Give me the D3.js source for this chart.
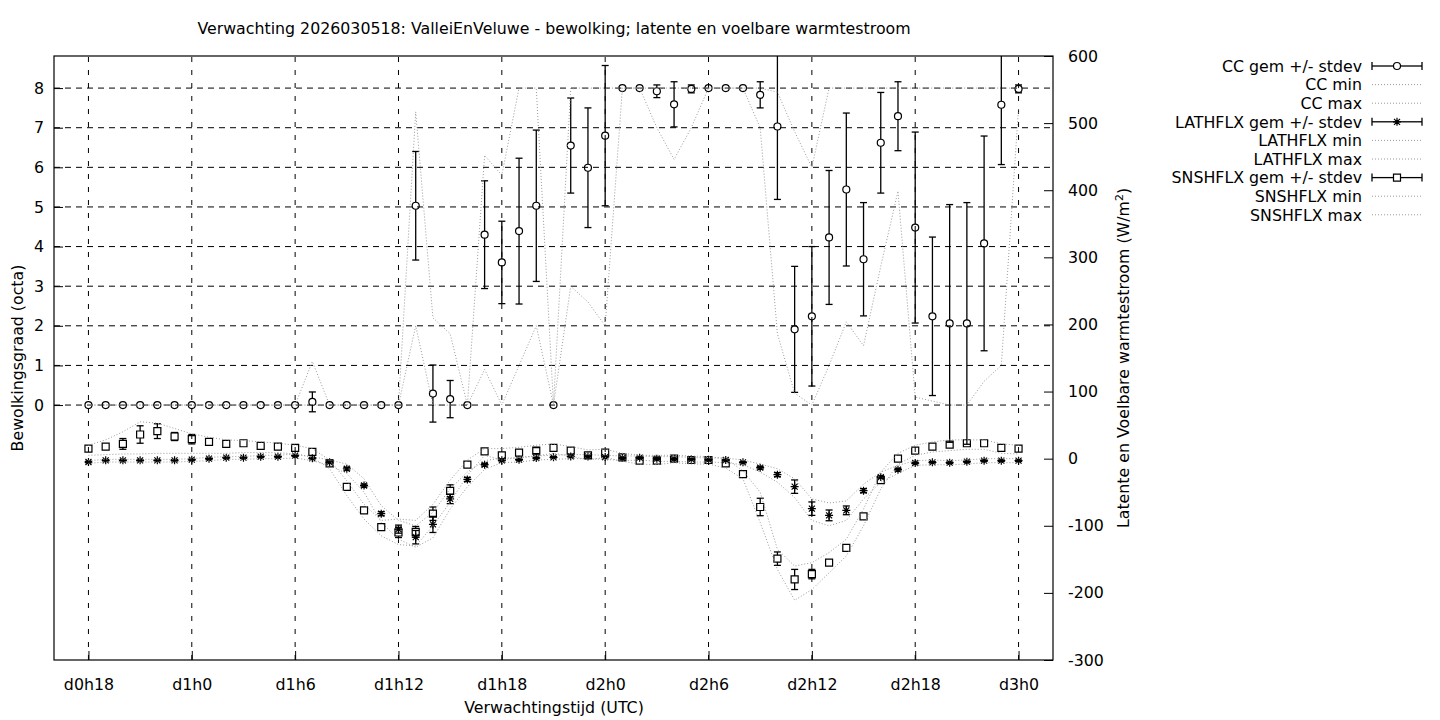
<!DOCTYPE html>
<html>
<head>
<meta charset="UTF-8">
<script src="https://d3js.org/d3.v7.min.js"></script>
<style>
body { margin: 0; background: #fff; }
svg text { font-family: "DejaVu Sans", sans-serif; font-size: 15.8px; fill: #000; }
.grid-h { stroke: #000; stroke-width: 1; stroke-dasharray: 6,5; }
.grid-v { stroke: #000; stroke-width: 1; stroke-dasharray: 5,8; }
.minmax { fill: none; stroke: #9a9a9a; stroke-width: 1; stroke-dasharray: 1,2; }
.bar { stroke: #000; stroke-width: 1.3; }
.mark { fill: none; stroke: #000; stroke-width: 1.2; }
</style>
</head>
<body>
<script>
// forecast hours (since d0h0)
var hours = [18,19,20,21,22,23, 24,25,26,27,28,29, 30,31,32,33,34,35, 36,37,38,39,40,41,
             42,43,44,45,46,47, 48,49,50,51,52,53, 54,55,56,57,58,59, 60,61,62,63,64,65,
             66,67,68,69,70,71, 72];
var tickHours  = [18, 24, 30, 36, 42, 48, 54, 60, 66, 72];
var tickLabels = ["d0h18","d1h0","d1h6","d1h12","d1h18","d2h0","d2h6","d2h12","d2h18","d3h0"];
var ccTicks = [0,1,2,3,4,5,6,7,8];
var wTicks  = [-300,-200,-100,0,100,200,300,400,500,600];

// bewolking (octa)
var ccMean = [0,0,0,0,0,0, 0,0,0,0,0,0, 0,0.08,0,0,0,0, 0,5.03,0.29,0.15,0,4.30,
              3.60,4.39,5.03,0,6.55,5.99, 6.80,8,8,7.92,7.59,7.98, 8,8,8,7.83,7.03,1.91,
              2.24,4.23,5.44,3.68,6.62,7.29, 4.48,2.24,2.06,2.06,4.08,7.58, 7.98];
var ccSd   = [0,0,0,0,0,0, 0,0,0,0,0,0, 0,0.25,0,0,0,0, 0,1.37,0.72,0.47,0,1.36,
              1.04,1.84,1.91,0,1.20,1.51, 1.77,0,0,0.16,0.57,0.10, 0,0,0,0.33,1.84,1.59,
              1.76,1.69,1.93,1.43,1.27,0.87, 2.41,2.00,3.00,3.05,2.71,1.51, 0.10];
var ccMin  = [0,0,0,0,0,0, 0,0,0,0,0,0, 0,0,0,0,0,0, 0,2.0,0,0,0,0.9,
              0,1.0,2.0,0,3.0,2.6, 2.0,8,8,7.0,6.2,7.0, 8,8,8,7.0,1.8,0.3,
              0,1.0,2.1,1.5,3.5,5.4, 0.2,0.1,0,0,0.6,1.0, 7.5];
var ccMax  = [0,0,0,0,0,0, 0,0,0,0,0,0, 0,1.1,0,0,0,0, 0,7.4,2.2,1.8,0,6.3,
              5.8,8,8,0,8,8, 8,8,8,8,8,8, 8,8,8,8,7.9,6.9,
              6.0,8,8,8,8,8, 8,8,8,8,8,8, 8];

// latente warmtestroom (W/m2)
var lhMean = [-5,-2.5,-2.5,-2.5,-2.5,-2.5, -1.5,0,1.5,1.5,3,3, 4.5,0.5,-5.5,-15,-40,-82,
              -105,-117,-98,-60,-31,-9, -2.5,-1.5,1,2,3.4,3.4, 2.4,1,1.5,0,0,-1,
              -1.5,-2,-5.5,-13.4,-23.8,-41.7, -74.5,-84.5,-77,-47.7,-27.4,-16.4,
              -6.5,-5.5,-6,-4.5,-3,-3, -3];
var lhSd   = [1,1,1,1,1,1, 1,1,1,1,1,1, 1,1,1,2,2,3,
              6,10,12,7,3,2, 1,1,1,1,1,1, 1,1,1,1,1,1,
              1,1,1,2,3,10, 10,8,6.5,3,2,2, 1,1,1,1,1,1, 1];
var lhMin  = [-7,-5,-5,-5,-5,-5, -4,-3,-1,-1,0,0, 1,-3,-10,-22,-50,-95,
              -120,-132,-118,-75,-42,-16, -6,-5,-2,-1,0,0, -1,-3,-2,-4,-4,-5,
              -5,-6,-9,-20,-35,-58, -92,-100,-92,-60,-35,-22, -10,-9,-9,-8,-6,-6, -6];
var lhMax  = [-3,-1,-1,-1,-1,-1, 0,2,3,3,5,5, 7,3,-2,-8,-30,-70,
              -92,-100,-80,-45,-20,-3, 1,1,4,5,6,6, 5,4,4,3,3,2,
              1,1,-2,-8,-15,-30, -60,-66,-63,-38,-20,-10, -3,-2,-3,-2,0,0, 0];

// voelbare warmtestroom (W/m2)
var shMean = [15,18,22,36,41,33, 29,25,22,23,19,18, 16,10,-7,-42,-77,-102,
              -110,-109,-82,-48,-9,11, 5,9,12,16,12,5, 9,2,-3,-3,0,-2,
              -2,-7,-23,-72,-149,-180, -172,-155,-133,-86,-32,0,
              12,18,21,23,23,16, 15];
var shSd   = [2,2,8,13,11,6, 7,3,2,2,2,2, 2,2,2,2,2,3,
              7.5,8,10,9,4,2, 3,2,4.5,2,3,2, 3,2,2,2,2,2,
              2,2,3,13,10,15, 7,2,4,2,3,2, 2,2,2,2,2,2, 2];
var shMin  = [5,6,7,7,8,8, 8,8,8,9,9,9, 7,2,-15,-55,-90,-115,
              -128,-130,-100,-65,-25,5, -2,2,4,8,4,-2, 2,-4,-8,-9,-6,-8,
              -8,-14,-30,-95,-165,-211, -195,-170,-145,-100,-45,-8,
              5,10,12,14,14,8, 7];
var shMax  = [20,28,40,55,53,45, 37,32,28,27,25,23, 20,15,-2,-33,-68,-92,
              -90,-92,-68,-32,-2,15, 15,17,20,22,18,13, 14,8,5,5,5,4,
              3,0,-18,-50,-135,-160, -155,-140,-120,-75,-20,8,
              20,25,28,28,28,22, 20];

var w = 1440, h = 720;
var pl = 54, pr = 1053, pt = 56, pb = 660;

var svg = d3.select("body").append("svg")
    .attr("width", w)
    .attr("height", h);

var x = d3.scaleLinear().domain([16, 74]).range([pl, pr]);
var yCC = d3.scaleLinear().domain([-6.435, 8.81]).range([pb, pt]);
var yW = d3.scaleLinear().domain([-300, 600]).range([pb, pt]);

svg.append("defs").append("clipPath").attr("id", "clip")
  .append("rect").attr("x", pl).attr("y", pt).attr("width", pr - pl).attr("height", pb - pt);

// title
svg.append("text")
    .attr("x", 554).attr("y", 34)
    .attr("text-anchor", "middle")
    .text("Verwachting 2026030518: ValleiEnVeluwe - bewolking; latente en voelbare warmtestroom");

// grid
svg.append("g").selectAll("line")
    .data(ccTicks).enter().append("line")
    .attr("class", "grid-h")
    .attr("x1", pl).attr("x2", pr)
    .attr("y1", function(d) { return yCC(d); })
    .attr("y2", function(d) { return yCC(d); });
svg.append("g").selectAll("line")
    .data(tickHours).enter().append("line")
    .attr("class", "grid-v")
    .attr("y1", pb).attr("y2", pt)
    .attr("x1", function(d) { return x(d); })
    .attr("x2", function(d) { return x(d); });

// axes (ticks inward)
var axL = svg.append("g").attr("transform", "translate(" + pl + ",0)")
    .call(d3.axisLeft(yCC).tickValues(ccTicks).tickSizeInner(-9).tickSizeOuter(0).tickPadding(10));
var axR = svg.append("g").attr("transform", "translate(" + pr + ",0)")
    .call(d3.axisRight(yW).tickValues(wTicks).tickSizeInner(-9).tickSizeOuter(0).tickPadding(15)
        .tickFormat(function(d) { return String(d); }));
var axB = svg.append("g").attr("transform", "translate(0," + pb + ")")
    .call(d3.axisBottom(x).tickValues(tickHours).tickSizeInner(-9).tickSizeOuter(0).tickPadding(19)
        .tickFormat(function(d, i) { return tickLabels[i]; }));
[axL, axR, axB].forEach(function(a) {
  a.select(".domain").remove();
  a.selectAll("text").attr("font-family", null).attr("font-size", null);
  a.selectAll("line").attr("stroke", "#000");
});

// border
svg.append("rect")
    .attr("x", pl).attr("y", pt).attr("width", pr - pl).attr("height", pb - pt)
    .attr("fill", "none").attr("stroke", "#000").attr("stroke-width", 1.2);

// axis titles
svg.append("text")
    .attr("transform", "translate(23,358) rotate(-90)")
    .attr("text-anchor", "middle")
    .text("Bewolkingsgraad (octa)");
var rt = svg.append("text")
    .attr("transform", "translate(1129,358) rotate(-90)")
    .attr("text-anchor", "middle");
rt.append("tspan").text("Latente en Voelbare warmtestroom (W/m");
rt.append("tspan").attr("dy", -6).style("font-size", "11px").text("2");
rt.append("tspan").attr("dy", 6).text(")");
svg.append("text")
    .attr("x", 554).attr("y", 713)
    .attr("text-anchor", "middle")
    .text("Verwachtingstijd (UTC)");

// markers
function markPath(type) {
  if (type == "circle") return "M3.5,0 A3.5,3.5 0 1,1 -3.5,0 A3.5,3.5 0 1,1 3.5,0 Z";
  if (type == "square") return "M-3.5,-3.5 H3.5 V3.5 H-3.5 Z";
  return "M-4,0 H4 M0,-4 V4 M-3,-3 L3,3 M-3,3 L3,-3";
}
var gap = { circle: 3.5, square: 3.5, star: 0 };

var plot = svg.append("g").attr("clip-path", "url(#clip)");

function drawSeries(mean, sd, mn, mx, y, type) {
  var g = plot.append("g");
  var rows = hours.map(function(hr, i) { return { h: hr, m: mean[i], s: sd[i] }; });
  // error bars, interrupted at the symbol; hidden when inside the symbol
  var eb = g.selectAll(".eb").data(rows).enter().append("g")
      .attr("transform", function(d) { return "translate(" + x(d.h) + "," + y(d.m) + ")"; });
  eb.each(function(d) {
    if (d.s <= 0) return;
    var e = d3.select(this);
    var top = y(d.m + d.s) - y(d.m), bot = y(d.m - d.s) - y(d.m);
    var gp = gap[type];
    if (gp > 0 && -top < gp - 0.5) return;
    if (-top > gp) e.append("line").attr("class", "bar").attr("x1", 0).attr("x2", 0).attr("y1", top).attr("y2", -gp);
    if (bot > gp) e.append("line").attr("class", "bar").attr("x1", 0).attr("x2", 0).attr("y1", gp).attr("y2", bot);
    e.append("line").attr("class", "bar").attr("x1", -3.5).attr("x2", 3.5).attr("y1", top).attr("y2", top);
    e.append("line").attr("class", "bar").attr("x1", -3.5).attr("x2", 3.5).attr("y1", bot).attr("y2", bot);
  });
  eb.append("path").attr("class", "mark").attr("d", markPath(type));

  [mn, mx].forEach(function(arr) {
    g.append("path")
        .datum(hours.map(function(hr, i) { return [hr, arr[i]]; }))
        .attr("class", "minmax")
        .attr("d", d3.line().x(function(d) { return x(d[0]); }).y(function(d) { return y(d[1]); }));
  });
}

drawSeries(ccMean, ccSd, ccMin, ccMax, yCC, "circle");
drawSeries(lhMean, lhSd, lhMin, lhMax, yW, "star");
drawSeries(shMean, shSd, shMin, shMax, yW, "square");

// legend
var legendItems = [
  { label: "CC gem +/- stdev", kind: "circle" },
  { label: "CC min", kind: "line" },
  { label: "CC max", kind: "line" },
  { label: "LATHFLX gem +/- stdev", kind: "star" },
  { label: "LATHFLX min", kind: "line" },
  { label: "LATHFLX max", kind: "line" },
  { label: "SNSHFLX gem +/- stdev", kind: "square" },
  { label: "SNSHFLX min", kind: "line" },
  { label: "SNSHFLX max", kind: "line" }
];
var legend = svg.append("g").attr("transform", "translate(1362,66)");
var li = legend.selectAll("g").data(legendItems).enter().append("g")
    .attr("transform", function(d, i) { return "translate(0," + (i * 18.6) + ")"; });
li.append("text")
    .attr("text-anchor", "end")
    .attr("dy", "0.36em")
    .text(function(d) { return d.label; });
li.each(function(d) {
  var e = d3.select(this);
  if (d.kind == "line") {
    e.append("line").attr("class", "minmax").attr("x1", 10).attr("x2", 60).attr("y1", 0).attr("y2", 0);
    return;
  }
  var gp = gap[d.kind];
  e.append("line").attr("class", "bar").attr("x1", 10).attr("x2", 35 - gp).attr("y1", 0).attr("y2", 0);
  e.append("line").attr("class", "bar").attr("x1", 35 + gp).attr("x2", 60).attr("y1", 0).attr("y2", 0);
  e.append("line").attr("class", "bar").attr("x1", 10).attr("x2", 10).attr("y1", -4).attr("y2", 4);
  e.append("line").attr("class", "bar").attr("x1", 60).attr("x2", 60).attr("y1", -4).attr("y2", 4);
  e.append("path").attr("class", "mark").attr("transform", "translate(35,0)").attr("d", markPath(d.kind));
});
</script>
</body>
</html>
